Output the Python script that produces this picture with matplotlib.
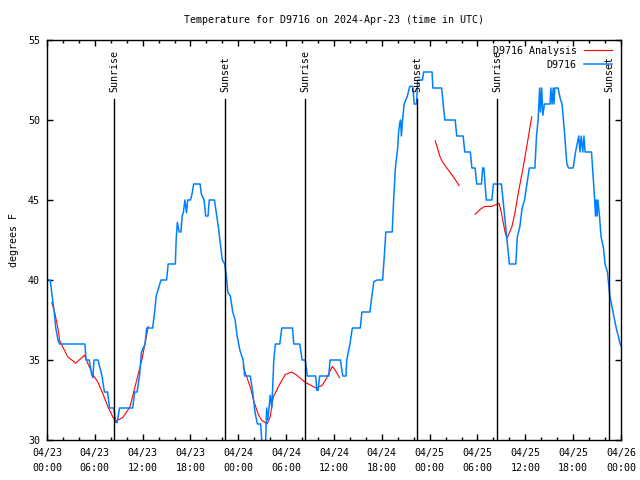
import numpy as np
import pandas as pd
import matplotlib
matplotlib.use("Agg")
import matplotlib.pyplot as plt
import matplotlib.dates as mdates

plt.rcParams['font.family'] = ['DejaVu Sans Mono']
FS = 7.2

start = pd.Timestamp('2024-04-23 00:00')

# observed temperature (hours since start, deg F)
obs_hours = [0.0, 0.4, 0.6, 0.9, 1.1, 1.4, 1.6, 4.75, 4.9, 5.3, 5.6, 5.75, 5.9, 6.4, 6.9, 7.2, 7.6, 7.85,
             8.4, 8.6, 8.8, 9.1, 10.75, 11.0, 11.3, 11.6, 11.85, 12.3, 12.5, 13.25, 13.5, 13.7, 14.0, 14.3,
             15.0, 15.2, 16.1, 16.2, 16.35, 16.5, 16.6, 16.8, 16.95, 17.1, 17.3, 17.5, 17.65, 18.0, 18.2,
             18.4, 19.2, 19.35, 19.7, 19.9, 20.2, 20.35, 21.0, 21.3, 21.5, 21.8, 22.0, 22.3, 22.5, 22.7,
             23.0, 23.3, 23.6, 23.85, 24.2, 24.6, 24.8, 25.5, 25.8, 26.1, 26.4, 26.8, 27.0, 27.4, 27.55,
             27.7, 27.85, 28.0, 28.2, 28.45, 28.65, 29.2, 29.45, 30.8, 30.95, 31.7, 32.0, 32.4, 32.65,
             33.7, 33.85, 34.0, 34.2, 35.35, 35.5, 36.8, 37.1, 37.5, 37.6, 38.0, 38.3, 39.3, 39.5, 40.5,
             40.75, 41.0, 41.4, 42.1, 42.3, 42.5, 43.3, 43.5, 43.7, 44.0, 44.1, 44.25, 44.35, 44.45, 44.6,
             44.8, 45.2, 45.5, 45.9, 46.05, 46.35, 46.5, 47.1, 47.25, 48.3, 48.4, 49.5, 49.9, 51.2, 51.4,
             52.2, 52.4, 53.1, 53.3, 53.7, 53.9, 54.5, 54.65, 54.8, 55.1, 55.8, 56.0, 57.0, 57.2, 57.5,
             57.8, 58.0, 58.8, 59.0, 59.3, 59.6, 59.9, 60.2, 60.5, 61.2, 61.4, 61.6, 61.8, 61.9, 62.05,
             62.2, 62.4, 63.1, 63.2, 63.35, 63.5, 63.6, 63.7, 64.1, 64.4, 64.6, 64.9, 65.2, 65.4, 66.0,
             66.3, 66.7, 66.85, 67.0, 67.2, 67.35, 67.5, 68.3, 68.5, 68.7, 68.8, 68.9, 69.0, 69.1, 69.3,
             69.5, 69.8, 70.0, 70.3, 70.6, 71.0, 71.4, 71.9, 72.0]
obs_temp = [40, 40, 39.2, 38, 37, 36.2, 36, 36, 35, 35, 34.1, 33.9, 35, 35, 34, 33, 33, 32,
            32, 31.1, 31.1, 32, 32, 33, 33, 34, 35.5, 36, 37, 37, 38, 39, 39.5, 40,
            40, 41, 41, 42.5, 43.6, 43.2, 43.0, 43.0, 44, 44.2, 45, 44.2, 45, 45, 45.4,
            46, 46, 45.4, 45, 44, 44, 45, 45, 44, 43.3, 42, 41.25, 41, 40.2, 39.2,
            39, 38, 37.5, 36.5, 35.6, 35, 34, 34, 33, 31.7, 31, 31, 29.5, 29.5, 32,
            31.25, 32, 32.8, 32, 35, 36, 36, 37, 37, 36, 36, 35, 35, 34,
            34, 33.1, 33.1, 34, 34, 35, 35, 34, 34, 35, 36, 37, 37, 38, 38,
            39, 39.9, 40, 40, 41.4, 43, 43, 45.2, 47, 48.3, 49.25, 49.8, 50, 49, 50,
            51, 51.5, 52.1, 52.1, 51, 51, 52.5, 52.5, 53, 53, 52, 52, 50, 50, 49,
            49, 48, 48, 47, 47, 46, 46, 47, 47, 45, 45, 46, 46, 45, 43.5,
            42, 41, 41, 42.7, 43.3, 44.5, 45, 46, 47, 47, 49, 50, 52, 50.5, 52,
            50.3, 51, 51, 52, 51, 52, 51, 52, 52, 51.3, 51, 49.3, 47.3, 47, 47,
            48, 49, 48, 49, 48, 49, 48, 48, 46.5, 45, 44, 45, 44, 45, 44,
            42.7, 42, 41, 40.5, 39, 38, 37, 36, 35.9]

# analysis segments
ana1_hours = [0.6, 1.0, 1.4, 1.6, 2.0, 2.6, 3.6, 4.7, 5.1, 5.8, 6.4, 7.0, 7.65, 8.3, 8.7, 9.5, 10.4,
              11.0, 11.9, 12.7]
ana1_temp = [38.6, 37.9, 36.9, 36.2, 35.8, 35.2, 34.8, 35.3, 34.8, 34.06, 33.6, 32.9, 32.06, 31.4, 31.2,
             31.4, 32.06, 33.25, 35.0, 37.1]
ana2_hours = [24.6, 25.5, 25.9, 26.5, 26.9, 27.6, 27.97, 28.4, 28.8, 29.2, 29.9, 30.7, 31.3, 32.4, 33.2,
              33.7, 34.5, 35.1, 35.8, 36.1, 36.7]
ana2_temp = [34.6, 33.3, 32.5, 31.6, 31.25, 31.0, 31.4, 32.7, 33.1, 33.5, 34.1, 34.25, 34.06, 33.6, 33.4,
             33.25, 33.4, 33.9, 34.6, 34.4, 33.9]
ana3_hours = [48.7, 49.3, 49.7, 50.3, 50.97, 51.7]
ana3_temp = [48.7, 47.7, 47.3, 46.9, 46.45, 45.9]
ana4_hours = [53.7, 54.3, 54.9, 55.8, 56.7, 57.0, 57.45, 57.7, 58.3, 58.7, 59.1, 59.75, 60.2, 60.8]
ana4_temp = [44.1, 44.4, 44.6, 44.6, 44.8, 44.2, 43.0, 42.6, 43.3, 44.2, 45.4, 47.1, 48.4, 50.2]

sun_labels = ['Sunrise', 'Sunset', 'Sunrise', 'Sunset', 'Sunrise', 'Sunset']
sun_hours = [8.44, 22.37, 32.4, 46.46, 56.5, 70.55]


def to_time(hours):
    return start + pd.to_timedelta(np.asarray(hours, dtype=float), unit='h')


ana_hours = ana1_hours + [np.nan] + ana2_hours + [np.nan] + ana3_hours + [np.nan] + ana4_hours
ana_temp = ana1_temp + [np.nan] + ana2_temp + [np.nan] + ana3_temp + [np.nan] + ana4_temp
ana_h = np.array(ana_hours, dtype=float)
ana_t = np.array(ana_temp, dtype=float)
# NaN hours can't be timestamps; keep the gap in the temps
ana_h_filled = np.where(np.isnan(ana_h), 0.0, ana_h)

fig = plt.figure(figsize=(6.4, 4.8), dpi=100)
ax = fig.add_axes([47 / 640, 40 / 480, 574 / 640, 400 / 480])

ax.plot(to_time(ana_h_filled), ana_t, color='#ff0000', lw=0.8, label='D9716 Analysis')
ax.plot(to_time(obs_hours), obs_temp, color='#0080ff', lw=1.1, label='D9716')

for h, lab in zip(sun_hours, sun_labels):
    t = to_time([h])[0]
    ax.plot([t, t], [30, 51.3], color='black', lw=1)
    ax.text(t, 51.75, lab, rotation=90, ha='center', va='bottom', fontsize=FS)

ax.set_xlim(start, start + pd.Timedelta(hours=72))
ax.set_ylim(30, 55)
ax.set_yticks([30, 35, 40, 45, 50, 55])
ax.xaxis.set_major_locator(mdates.HourLocator(byhour=[0, 6, 12, 18]))
ax.xaxis.set_minor_locator(mdates.HourLocator(interval=2))
ax.xaxis.set_major_formatter(mdates.DateFormatter('%m/%d\n%H:%M'))

ax.tick_params(which='both', direction='in', top=True, right=True, labelsize=FS, colors='black')
ax.tick_params(which='major', length=4, width=1)
ax.tick_params(which='minor', length=2, width=1)
ax.tick_params(axis='x', which='major', pad=6)
ax.tick_params(axis='y', which='major', pad=5)
for lbl in ax.get_xticklabels():
    lbl.set_linespacing(1.6)
for sp in ax.spines.values():
    sp.set_linewidth(1)
    sp.set_color('black')

ax.set_title('Temperature for D9716 on 2024-Apr-23 (time in UTC)', fontsize=FS, pad=12)
ax.set_ylabel('degrees F', fontsize=FS, labelpad=6.5)

ax.legend(loc='upper right', bbox_to_anchor=(0.984, 0.985), frameon=False, fontsize=FS,
          markerfirst=False, handlelength=2.8, handletextpad=0.7, labelspacing=0.4,
          borderpad=0, borderaxespad=0)

fig.savefig('out.png', dpi=100)
